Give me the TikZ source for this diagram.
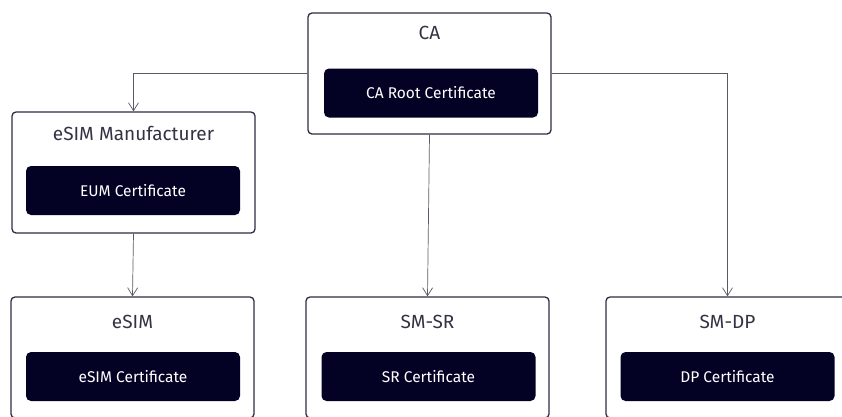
\documentclass[tikz,border=0pt]{standalone}
\usepackage{fontspec}
\setmainfont{Fira Sans}
\usetikzlibrary{arrows.meta}
\definecolor{borda}{HTML}{2E2D45}
\definecolor{escuro}{HTML}{030225}
\definecolor{texto}{HTML}{333344}
\definecolor{linha}{HTML}{5A5A66}
\tikzset{
  caixa/.style={draw=borda, line width=1.3pt, rounded corners=4pt, fill=white,
    minimum width=243pt, minimum height=121pt, inner sep=0pt},
  titulo/.style={text=texto, font=\fontsize{19}{21}\selectfont},
  cert/.style={fill=escuro, rounded corners=5pt, text=white, minimum width=214pt,
    minimum height=49pt, inner sep=0pt, font=\fontsize{15.5}{17}\selectfont},
  seta/.style={draw=linha, line width=0.7pt, -{Straight Barb[length=8pt,width=10pt]}}
}
\begin{document}
\begin{tikzpicture}[x=1pt,y=-1pt]
  \useasboundingbox (0,0) rectangle (842,416);
  \clip (0,0) rectangle (842,416);
  % Entidades
  \node[caixa] (ca) at (429.5,73.5) {};
  \node[titulo] (catit) at (429.5,33) {CA};
  \node[cert] (cacert) at (431,93) {CA Root Certificate};

  \node[caixa] (mfr) at (133.5,172.5) {};
  \node[titulo] (mfrtit) at (133.5,133) {eSIM Manufacturer};
  \node[cert] (eum) at (133,190.5) {EUM Certificate};

  \node[caixa] (esim) at (132.5,357.5) {};
  \node[titulo] (esimtit) at (132.5,322) {eSIM};
  \node[cert] (esimcert) at (133,376.5) {eSIM Certificate};

  \node[caixa] (sr) at (427.5,357.5) {};
  \node[titulo] (srtit) at (427.5,322) {SM-SR};
  \node[cert] (srcert) at (428.5,376.5) {SR Certificate};

  \node[caixa] (dp) at (727.5,357.5) {};
  \node[titulo] (dptit) at (727.5,322) {SM-DP};
  \node[cert] (dpcert) at (727.5,376.5) {DP Certificate};

  % Ligacoes
  \draw[seta] (ca.west) -| (mfr.north);
  \draw[seta] (ca.east) -| (dp.north);
  \draw[seta] (ca.south) -- (sr.north);
  \draw[seta] (mfr.south) -- (esim.north);
\end{tikzpicture}
\end{document}
